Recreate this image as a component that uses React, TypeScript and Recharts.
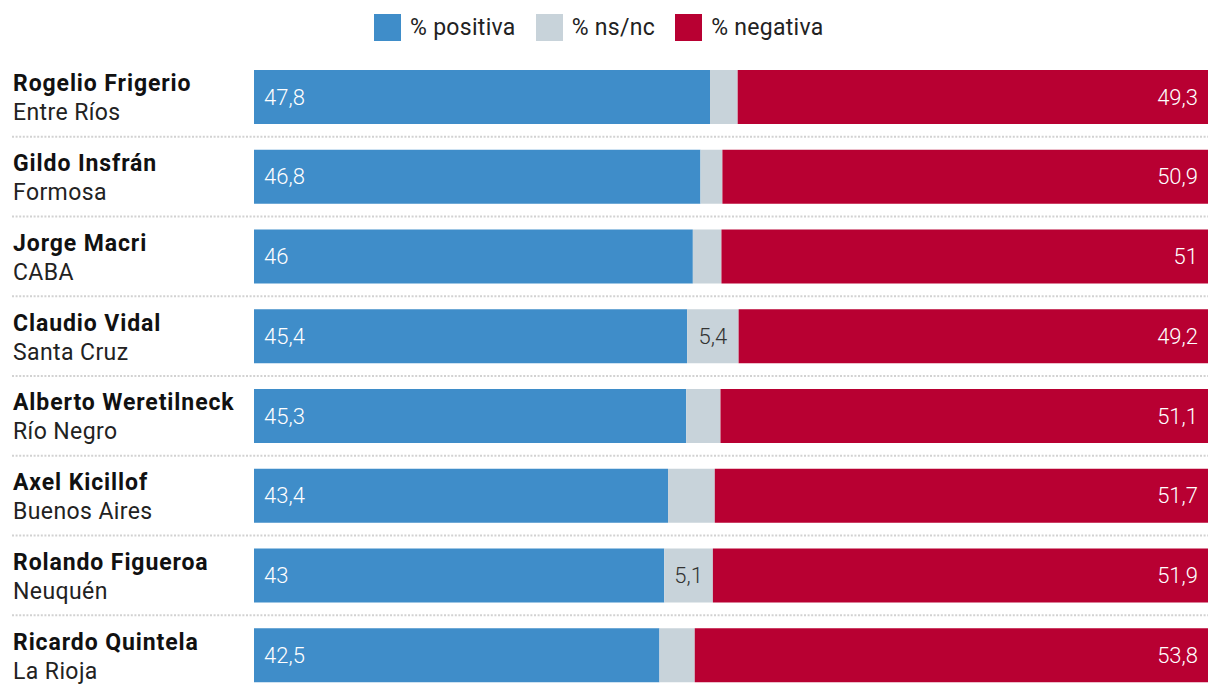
import React from 'react';
import { BarChart, Bar, XAxis, YAxis, LabelList } from 'recharts';

const names = [
  'Rogelio Frigerio',
  'Gildo Insfrán',
  'Jorge Macri',
  'Claudio Vidal',
  'Alberto Weretilneck',
  'Axel Kicillof',
  'Rolando Figueroa',
  'Ricardo Quintela',
];
const regions = ['Entre Ríos', 'Formosa', 'CABA', 'Santa Cruz', 'Río Negro', 'Buenos Aires', 'Neuquén', 'La Rioja'];
const positiva = [47.8, 46.8, 46, 45.4, 45.3, 43.4, 43, 42.5];
const nsnc = [2.9, 2.3, 3, 5.4, 3.6, 4.9, 5.1, 3.7];
const negativa = [49.3, 50.9, 51, 49.2, 51.1, 51.7, 51.9, 53.8];

const BLUE = '#3f8dc9';
const GREY = '#c8d3da';
const RED = '#b80032';
const FONT = 'Roboto, "Noto Sans", sans-serif';

const data = names.map((name, i) => ({
  name,
  region: regions[i],
  positiva: positiva[i],
  nsnc: nsnc[i],
  negativa: negativa[i],
}));

const fmt = (v: number) => String(v).replace('.', ',');

const ROW = 638 / names.length;

function NameTick(props: any) {
  const { y, payload, index } = props;
  const row = data.find((d) => d.name === payload.value);
  return (
    <g>
      {index > 0 && (
        <line
          x1={4}
          x2={1200}
          y1={y - ROW / 2}
          y2={y - ROW / 2}
          stroke="#d2d2d2"
          strokeWidth={2}
          strokeDasharray="2 1.6"
        />
      )}
      <text x={5} y={y - 13} dominantBaseline="central" fontFamily={FONT} fontSize={23} fontWeight={700} fill="#111" letterSpacing={0.9}>
        {payload.value}
      </text>
      <text x={5} y={y + 16} dominantBaseline="central" fontFamily={FONT} fontSize={23} fontWeight={400} fill="#222" letterSpacing={0.4}>
        {row ? row.region : ''}
      </text>
    </g>
  );
}

const renderLeft = (props: any) => {
  const { x, y, height, value } = props;
  return (
    <text x={x + 10} y={y + height / 2} dominantBaseline="central" fill="#fff" fontFamily={FONT} fontWeight={300} fontSize={22}>
      {fmt(value)}
    </text>
  );
};

const renderRight = (props: any) => {
  const { x, y, width, height, value } = props;
  return (
    <text x={x + width - 10} y={y + height / 2} dominantBaseline="central" textAnchor="end" fill="#fff" fontFamily={FONT} fontWeight={300} fontSize={22}>
      {fmt(value)}
    </text>
  );
};

const renderMid = (props: any) => {
  const { x, y, width, height, value } = props;
  if (value < 5) return null;
  return (
    <text x={x + width / 2} y={y + height / 2} dominantBaseline="central" textAnchor="middle" fill="#333" fontFamily={FONT} fontWeight={300} fontSize={22}>
      {fmt(value)}
    </text>
  );
};

const legendItems = [
  { label: '% positiva', color: BLUE },
  { label: '% ns/nc', color: GREY },
  { label: '% negativa', color: RED },
];

export default function App() {
  return (
    <div style={{ position: 'relative', width: 1212, height: 678, overflow: 'hidden', fontFamily: FONT }}>
      <div
        style={{
          position: 'absolute',
          top: 6,
          left: 366,
          display: 'flex',
          alignItems: 'center',
          gap: 20,
        }}
      >
        {legendItems.map((it) => (
          <div key={it.label} style={{ display: 'flex', alignItems: 'center' }}>
            <div style={{ width: 27, height: 27, background: it.color, marginRight: 9 }} />
            <span style={{ fontSize: 23, color: '#222', fontWeight: 400, letterSpacing: 0.3 }}>{it.label}</span>
          </div>
        ))}
      </div>
      <BarChart
        width={1212}
        height={687}
        data={data}
        layout="vertical"
        margin={{ top: 49, right: 12, bottom: 0, left: 0 }}
        barSize={54}
      >
        <XAxis type="number" domain={[0, 100]} hide />
        <YAxis
          type="category"
          dataKey="name"
          width={246}
          axisLine={false}
          tickLine={false}
          tick={<NameTick />}
          interval={0}
        />
        <Bar dataKey="positiva" stackId="a" fill={BLUE} isAnimationActive={false}>
          <LabelList dataKey="positiva" content={renderLeft} />
        </Bar>
        <Bar dataKey="nsnc" stackId="a" fill={GREY} isAnimationActive={false}>
          <LabelList dataKey="nsnc" content={renderMid} />
        </Bar>
        <Bar dataKey="negativa" stackId="a" fill={RED} isAnimationActive={false}>
          <LabelList dataKey="negativa" content={renderRight} />
        </Bar>
      </BarChart>
    </div>
  );
}
